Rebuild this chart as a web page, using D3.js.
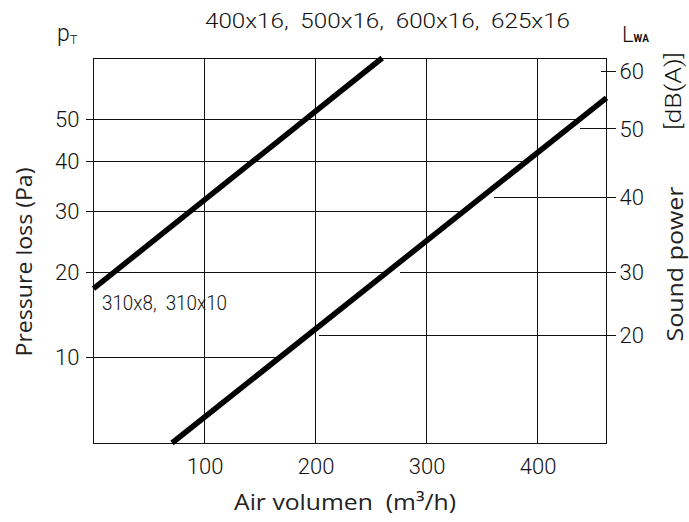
<!DOCTYPE html>
<html>
<head>
<meta charset="utf-8">
<script src="https://cdn.jsdelivr.net/npm/d3@7"></script>
<style>
    body { margin: 0; background: #fff; }
    .num { font-family: "DejaVu Sans ExtraLight", "Roboto", sans-serif; font-weight: 300; fill: #111; }
    .title { font-family: "Open Sans", "Noto Sans", sans-serif; font-weight: 400; fill: #222; }
</style>
</head>
<body>
<div id="chart"></div>
<script>
// Air volume ticks (m3/h)
var airTicks = [100, 200, 300, 400];
// Pressure loss ticks (Pa)
var pressureTicks = [10, 20, 30, 40, 50];
// Sound power ticks dB(A) and the pressure level each one sits on
var soundTicks = [20, 30, 40, 50, 60];
var soundAtPressure = [12.2, 20, 32.6, 47.6, 62.9];
// air volume where each sound power reference line starts
var soundLineStart = [203, 276, 361, 438, 457];

// the two duct lines: [air volume, pressure]
var upperLine = [[0, 17.8], [260, 67]];
var lowerLine = [[70.7, 3.9], [462, 55.6]];

var width = 689, height = 522;

var svg = d3.select("#chart")
    .append("svg")
    .attr("width", width)
    .attr("height", height);

// scales
var x = d3.scaleLinear().domain([0, 462]).range([93.5, 606.5]);
var y = d3.scalePow().exponent(0.38).domain([3.9, 67]).range([443, 58]);
var ySound = d3.scaleLinear()
    .domain(soundTicks)
    .range(soundAtPressure.map(function(p) { return y(p); }));

var line = d3.line()
    .x(function(d) { return x(d[0]); })
    .y(function(d) { return y(d[1]); });

// x position where a horizontal line meets the lower duct line
function lowerX(py) {
    var x0 = x(lowerLine[0][0]), y0 = y(lowerLine[0][1]);
    var x1 = x(lowerLine[1][0]), y1 = y(lowerLine[1][1]);
    return x0 + (py - y0) / (y1 - y0) * (x1 - x0);
}

var grid = svg.append("g")
    .attr("stroke", "#111")
    .attr("stroke-width", 1)
    .attr("shape-rendering", "crispEdges");

// vertical grid lines
grid.selectAll(".vgrid")
    .data(airTicks)
    .enter().append("line")
    .attr("x1", function(d) { return x(d); })
    .attr("x2", function(d) { return x(d); })
    .attr("y1", y.range()[1])
    .attr("y2", y.range()[0]);

// pressure grid lines, from the tick to the lower duct line
grid.selectAll(".hgrid")
    .data(pressureTicks)
    .enter().append("line")
    .attr("x1", x.range()[0] - 8)
    .attr("x2", function(d) { return lowerX(y(d)); })
    .attr("y1", function(d) { return y(d); })
    .attr("y2", function(d) { return y(d); });

// sound power reference lines, running to the right tick
grid.selectAll(".sgrid")
    .data(soundTicks)
    .enter().append("line")
    .attr("x1", function(d, i) { return x(soundLineStart[i]); })
    .attr("x2", x.range()[1] + 9)
    .attr("y1", function(d) { return ySound(d); })
    .attr("y2", function(d) { return ySound(d); });

// frame
svg.append("rect")
    .attr("x", x.range()[0])
    .attr("y", y.range()[1])
    .attr("width", x.range()[1] - x.range()[0])
    .attr("height", y.range()[0] - y.range()[1])
    .attr("fill", "none")
    .attr("stroke", "#111")
    .attr("shape-rendering", "crispEdges");

// duct lines
svg.selectAll(".duct")
    .data([upperLine, lowerLine])
    .enter().append("path")
    .attr("class", "duct")
    .attr("d", line)
    .attr("fill", "none")
    .attr("stroke", "#000")
    .attr("stroke-width", 5.5);

// axes (labels only, lines drawn above)
svg.append("g")
    .attr("transform", "translate(" + x.range()[0] + ",0)")
    .call(d3.axisLeft(y).tickValues(pressureTicks).tickSize(0).tickPadding(14).tickFormat(d3.format("d")));

svg.append("g")
    .attr("transform", "translate(0," + y.range()[0] + ")")
    .call(d3.axisBottom(x).tickValues(airTicks).tickSize(0).tickPadding(15));

svg.append("g")
    .attr("transform", "translate(" + (x.range()[1] + 12) + ",0)")
    .call(d3.axisRight(ySound).tickValues(soundTicks).tickSize(0).tickPadding(1).tickFormat(d3.format("d")));

svg.selectAll(".domain").remove();
svg.selectAll(".tick text")
    .attr("class", "num")
    .attr("font-family", null)
    .attr("font-size", null)
    .style("font-size", "22px")
    .attr("fill", "#111");

// texts
svg.append("text")
    .attr("class", "num")
    .attr("x", 205)
    .attr("y", 28)
    .attr("textLength", 365)
    .attr("lengthAdjust", "spacingAndGlyphs")
    .style("font-size", "21px")
    .style("white-space", "pre")
    .text("400x16,  500x16,  600x16,  625x16");

svg.append("text")
    .attr("class", "num")
    .attr("x", 102)
    .attr("y", 310)
    .attr("textLength", 125)
    .attr("lengthAdjust", "spacingAndGlyphs")
    .style("font-size", "20px")
    .style("white-space", "pre")
    .text("310x8,  310x10");

var pT = svg.append("text")
    .attr("class", "num")
    .attr("x", 57)
    .attr("y", 41)
    .style("font-size", "23px");
pT.append("tspan").text("p");
pT.append("tspan").attr("dy", 3).style("font-size", "13px").text("T");

var lWA = svg.append("text")
    .attr("class", "num")
    .attr("x", 622)
    .attr("y", 42)
    .style("font-size", "22px");
lWA.append("tspan").text("L");
lWA.append("tspan").style("font-size", "10px").style("font-weight", "bold").text("WA");

svg.append("text")
    .attr("class", "num")
    .attr("transform", "translate(681,91) rotate(-90)")
    .attr("text-anchor", "middle")
    .attr("textLength", 78)
    .attr("lengthAdjust", "spacingAndGlyphs")
    .style("font-size", "22px")
    .text("[dB(A)]");

svg.append("text")
    .attr("class", "title")
    .attr("transform", "translate(683,264) rotate(-90)")
    .attr("text-anchor", "middle")
    .attr("textLength", 155)
    .attr("lengthAdjust", "spacingAndGlyphs")
    .style("font-size", "22px")
    .text("Sound power");

svg.append("text")
    .attr("class", "title")
    .attr("transform", "translate(32,262) rotate(-90)")
    .attr("text-anchor", "middle")
    .attr("textLength", 189)
    .attr("lengthAdjust", "spacingAndGlyphs")
    .style("font-size", "22px")
    .text("Pressure loss (Pa)");

svg.append("text")
    .attr("class", "title")
    .attr("x", 345)
    .attr("y", 510)
    .attr("text-anchor", "middle")
    .attr("textLength", 222)
    .attr("lengthAdjust", "spacingAndGlyphs")
    .style("font-size", "22px")
    .style("white-space", "pre")
    .text("Air volumen  (m³/h)");
</script>
</body>
</html>
